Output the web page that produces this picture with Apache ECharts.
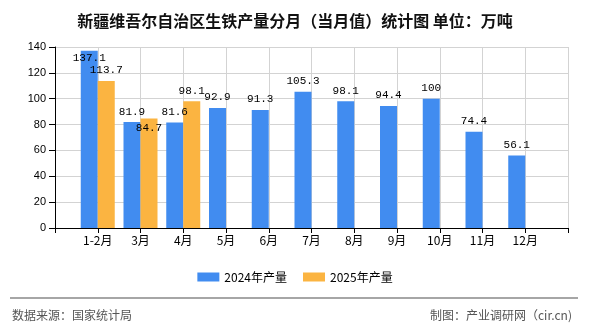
<!DOCTYPE html>
<html>
<head>
<meta charset="utf-8">
<script src="https://cdn.jsdelivr.net/npm/echarts@6/dist/echarts.min.js"></script>
<style>
html,body{margin:0;padding:0;background:#fff;}
#c{width:590px;height:330px;}
</style>
</head>
<body>
<div id="c"></div>
<script>
const categories = ['1-2月','3月','4月','5月','6月','7月','8月','9月','10月','11月','12月'];
const values2024 = [137.1,81.9,81.6,92.9,91.3,105.3,98.1,94.4,100,74.4,56.1];
const values2025 = [113.7,84.7,98.1];
const yTicks = [0,20,40,60,80,100,120,140];

const cjk = '"Noto Sans CJK SC", sans-serif';
const xData = [''].concat(categories, ['']);
function pad(arr){
  const out = [null];
  for (let i = 0; i < categories.length; i++) out.push(i < arr.length ? arr[i] : null);
  out.push(null);
  return out;
}
const d2024 = pad(values2024);
const d2025 = pad(values2025);
// labels pushed inside the bar where they would collide
d2024[1] = {value: d2024[1], label: {position: 'insideTop', distance: 2}};
d2025[2] = {value: d2025[2], label: {position: 'insideTop', distance: 4}};

const labelStyle = {show: true, position: 'top', distance: 5, color: '#000', fontFamily: '"Liberation Mono", monospace', fontSize: 11};

const chart = echarts.init(document.getElementById('c'));
chart.setOption({
  animation: false,
  backgroundColor: '#fff',
  title: {
    text: '新疆维吾尔自治区生铁产量分月（当月值）统计图 单位：万吨',
    left: 'center', top: 8,
    textStyle: {fontFamily: cjk, fontSize: 16, fontWeight: 'bold', color: '#111'}
  },
  legend: {
    bottom: 42, left: 'center',
    itemWidth: 22, itemHeight: 9, itemGap: 16,
    icon: 'rect',
    textStyle: {fontFamily: cjk, fontSize: 12, color: '#000'},
    data: ['2024年产量','2025年产量']
  },
  grid: {left: 55, right: 22, top: 47, bottom: 102, containLabel: false},
  xAxis: {
    type: 'category', data: xData, boundaryGap: false,
    axisLine: {lineStyle: {color: '#000', width: 1}},
    axisTick: {show: true, length: 5, lineStyle: {color: '#000'}},
    axisLabel: {color: '#000', fontFamily: cjk, fontSize: 12, margin: 6, interval: 0},
    splitLine: {show: true, lineStyle: {color: '#d3d3d3', width: 1}}
  },
  yAxis: {
    type: 'value', min: yTicks[0], max: yTicks[yTicks.length-1], interval: 20,
    axisLine: {show: true, lineStyle: {color: '#000', width: 1}},
    axisTick: {show: true, length: 6, lineStyle: {color: '#000'}},
    axisLabel: {color: '#000', fontFamily: '"Liberation Sans", Arial, sans-serif', fontSize: 11, margin: 9},
    splitLine: {show: true, lineStyle: {color: '#d3d3d3', width: 1}}
  },
  series: [
    {name: '2024年产量', type: 'bar', data: d2024, barWidth: 17, barGap: '0%',
     itemStyle: {color: '#418CF0'}, label: labelStyle},
    {name: '2025年产量', type: 'bar', data: d2025, barWidth: 17, barGap: '0%',
     itemStyle: {color: '#FBB441'}, label: labelStyle}
  ],
  graphic: [
    {type: 'line', shape: {x1: 10, y1: 298, x2: 578, y2: 298}, style: {stroke: '#888', lineWidth: 1.5}},
    {type: 'text', left: 12, top: 309, style: {text: '数据来源：国家统计局', fill: '#555', font: '12px "Noto Sans CJK SC", sans-serif'}},
    {type: 'text', right: 18, top: 309, style: {text: '制图：产业调研网（cir.cn)', fill: '#555', font: '12px "Noto Sans CJK SC", sans-serif'}}
  ]
});
</script>
</body>
</html>
